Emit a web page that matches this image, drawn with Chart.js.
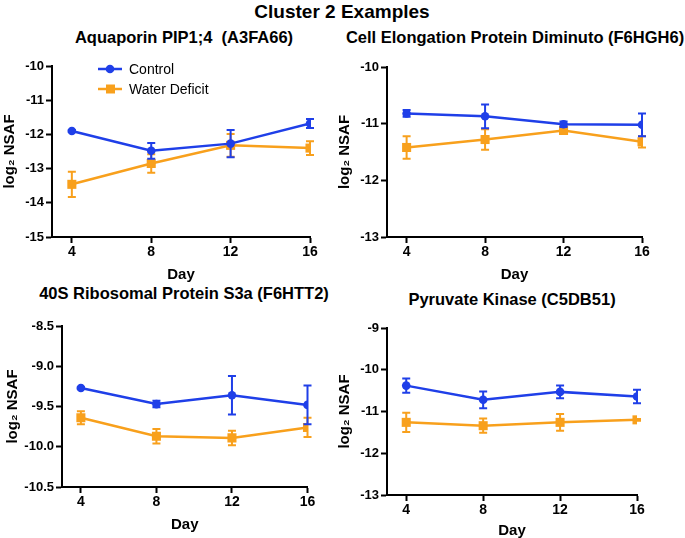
<!DOCTYPE html>
<html>
<head>
<meta charset="utf-8">
<script src="https://cdn.jsdelivr.net/npm/chart.js@4"></script>
<style>
  body { margin: 0; background: #fff; }
  #page { position: relative; width: 685px; height: 538px; overflow: hidden; font-family: "Liberation Sans", Arial, sans-serif; }
  canvas { position: absolute; }
  .ttl { position: absolute; width: 400px; text-align: center; font-weight: bold; color: #000; white-space: pre; }
</style>
</head>
<body>
<div id="page">
  <div class="ttl" style="left:142px;top:1px;font-size:19px;line-height:22px;">Cluster 2 Examples</div>
  <div class="ttl" style="left:-16px;top:28px;font-size:16.5px;line-height:19px;">Aquaporin PIP1;4  (A3FA66)</div>
  <div class="ttl" style="left:315px;top:28px;font-size:16.5px;line-height:19px;">Cell Elongation Protein Diminuto (F6HGH6)</div>
  <div class="ttl" style="left:-16px;top:284px;font-size:16.5px;line-height:19px;">40S Ribosomal Protein S3a (F6HTT2)</div>
  <div class="ttl" style="left:312px;top:290px;font-size:16.5px;line-height:19px;">Pyruvate Kinase (C5DB51)</div>
  <canvas id="c1" width="335" height="235" style="left:0;top:50px"></canvas>
  <canvas id="c2" width="349" height="235" style="left:336px;top:50px"></canvas>
  <canvas id="c3" width="335" height="228" style="left:0;top:310px"></canvas>
  <canvas id="c4" width="349" height="230" style="left:336px;top:310px"></canvas>
</div>
<script>
const days = [4, 8, 12, 16];
const seriesNames = ["Control", "Water Deficit"];

// Aquaporin PIP1;4
const aquaControl = [-11.90, -12.48, -12.27, -11.68];
const aquaControlErr = [0.03, 0.23, 0.40, 0.13];
const aquaDeficit = [-13.46, -12.85, -12.32, -12.40];
const aquaDeficitErr = [0.37, 0.27, 0.33, 0.20];
const aquaTicks = [-15, -14, -13, -12, -11, -10];

// Cell Elongation Protein Diminuto
const cellControl = [-10.82, -10.87, -11.01, -11.02];
const cellControlErr = [0.06, 0.21, 0.05, 0.20];
const cellDeficit = [-11.42, -11.28, -11.12, -11.32];
const cellDeficitErr = [0.20, 0.18, 0.02, 0.10];
const cellTicks = [-13, -12, -11, -10];

// 40S Ribosomal Protein S3a
const riboControl = [-9.27, -9.47, -9.36, -9.48];
const riboControlErr = [0.01, 0.04, 0.24, 0.24];
const riboDeficit = [-9.64, -9.87, -9.89, -9.76];
const riboDeficitErr = [0.08, 0.09, 0.09, 0.12];
const riboTicks = [-10.5, -10.0, -9.5, -9.0, -8.5];

// Pyruvate Kinase
const pyrControl = [-10.38, -10.72, -10.53, -10.64];
const pyrControlErr = [0.17, 0.20, 0.15, 0.16];
const pyrDeficit = [-11.26, -11.34, -11.26, -11.20];
const pyrDeficitErr = [0.23, 0.17, 0.20, 0.02];
const pyrTicks = [-13, -12, -11, -10, -9];

const BLUE = "#1f3fe8";
const ORANGE = "#f8a01c";
const FONT = "'Liberation Sans', Arial, sans-serif";

// vertical error bars with caps, drawn from each dataset's errors
const errorBars = {
    id: "errorBars",
    beforeDatasetDraw(chart, args) {
        const ds = chart.data.datasets[args.index];
        if (!ds.errors) return;
        const { ctx, scales } = chart;
        ctx.save();
        ctx.strokeStyle = ds.borderColor;
        ctx.lineWidth = 2;
        ds.data.forEach((p, i) => {
            const x = scales.x.getPixelForValue(p.x);
            const y1 = scales.y.getPixelForValue(p.y + ds.errors[i]);
            const y2 = scales.y.getPixelForValue(p.y - ds.errors[i]);
            ctx.beginPath();
            ctx.moveTo(x, y1); ctx.lineTo(x, y2);
            ctx.moveTo(x - 4, y1); ctx.lineTo(x + 4, y1);
            ctx.moveTo(x - 4, y2); ctx.lineTo(x + 4, y2);
            ctx.stroke();
        });
        ctx.restore();
    }
};

// legend inside the plot, line + marker like the original
const insetLegend = {
    id: "insetLegend",
    afterDraw(chart, args, opts) {
        if (!opts.show) return;
        const { ctx, chartArea } = chart;
        ctx.save();
        chart.data.datasets.forEach((ds, i) => {
            const y = chartArea.top + 3 + i * 20;
            const x0 = chartArea.left + 46;
            ctx.strokeStyle = ds.borderColor;
            ctx.fillStyle = ds.borderColor;
            ctx.lineWidth = 2.5;
            ctx.beginPath();
            ctx.moveTo(x0, y); ctx.lineTo(x0 + 24, y);
            ctx.stroke();
            ctx.beginPath();
            if (ds.pointStyle === "rect") ctx.rect(x0 + 8, y - 4.5, 9, 9);
            else ctx.arc(x0 + 12, y, 4.3, 0, Math.PI * 2);
            ctx.fill();
            ctx.fillStyle = "#000";
            ctx.font = "14px " + FONT;
            ctx.textBaseline = "middle";
            ctx.fillText(ds.label, x0 + 31, y + 1);
        });
        ctx.restore();
    }
};

function toPoints(values) {
    return values.map((v, i) => ({ x: days[i], y: v }));
}

function renderPanel(id, control, controlErr, deficit, deficitErr, yTicks, box) {
    const yTickFont = { family: FONT, size: 13, weight: "bold" };
    const xTickFont = { family: FONT, size: 14, weight: "bold" };
    const titleFont = { family: FONT, size: 15, weight: "bold" };
    new Chart(document.getElementById(id).getContext("2d"), {
        type: "line",
        data: {
            datasets: [{
                label: seriesNames[0],
                data: toPoints(control),
                errors: controlErr,
                borderColor: BLUE,
                backgroundColor: BLUE,
                borderWidth: 2.5,
                pointStyle: "circle",
                pointRadius: 4.3,
                pointBorderWidth: 0
            }, {
                label: seriesNames[1],
                data: toPoints(deficit),
                errors: deficitErr,
                borderColor: ORANGE,
                backgroundColor: ORANGE,
                borderWidth: 2.5,
                pointStyle: "rect",
                pointRadius: 6.4,
                pointBorderWidth: 0
            }]
        },
        options: {
            responsive: false,
            animation: false,
            events: [],
            layout: { padding: { top: box.padTop, right: box.padRight, left: 0, bottom: 0 } },
            plugins: {
                legend: { display: false },
                tooltip: { enabled: false },
                insetLegend: { show: !!box.legend }
            },
            scales: {
                x: {
                    type: "linear",
                    min: 3,
                    max: 16,
                    afterBuildTicks: (s) => { s.ticks = days.map((v) => ({ value: v })); },
                    afterFit: (s) => { s.height = box.xHeight; },
                    border: { color: "#000", width: 2 },
                    grid: { drawOnChartArea: false, color: "#000", tickColor: "#000", tickLength: 6, tickWidth: 2 },
                    ticks: { color: "#000", font: xTickFont, padding: 1, maxRotation: 0 },
                    title: { display: true, text: "Day", color: "#000", font: titleFont, padding: { top: 0, bottom: box.dayPad } }
                },
                y: {
                    min: yTicks[0],
                    max: yTicks[yTicks.length - 1],
                    afterBuildTicks: (s) => { s.ticks = yTicks.map((v) => ({ value: v })); },
                    afterFit: (s) => { s.width = box.yWidth; },
                    border: { color: "#000", width: 2 },
                    grid: { drawOnChartArea: false, color: "#000", tickColor: "#000", tickLength: 6, tickWidth: 2 },
                    ticks: {
                        color: "#000", font: yTickFont, padding: 2,
                        callback: (v) => box.decimals ? v.toFixed(1) : String(v)
                    },
                    title: { display: true, text: "log\u2082 NSAF", color: "#000", font: titleFont, padding: { top: box.yTitlePad, bottom: 0 } }
                }
            }
        },
        plugins: [errorBars, insetLegend]
    });
}

renderPanel("c1", aquaControl, aquaControlErr, aquaDeficit, aquaDeficitErr, aquaTicks,
    { yWidth: 52, padTop: 16, padRight: 25, xHeight: 48, dayPad: 1, yTitlePad: 1, legend: true });
renderPanel("c2", cellControl, cellControlErr, cellDeficit, cellDeficitErr, cellTicks,
    { yWidth: 51, padTop: 17, padRight: 43, xHeight: 48, dayPad: 1, yTitlePad: 0 });
renderPanel("c3", riboControl, riboControlErr, riboDeficit, riboDeficitErr, riboTicks,
    { yWidth: 62, padTop: 16, padRight: 27.5, xHeight: 51, dayPad: 4, yTitlePad: 4, decimals: true });
renderPanel("c4", pyrControl, pyrControlErr, pyrDeficit, pyrDeficitErr, pyrTicks,
    { yWidth: 51, padTop: 18, padRight: 48, xHeight: 45, dayPad: 0, yTitlePad: 0 });
</script>
</body>
</html>
